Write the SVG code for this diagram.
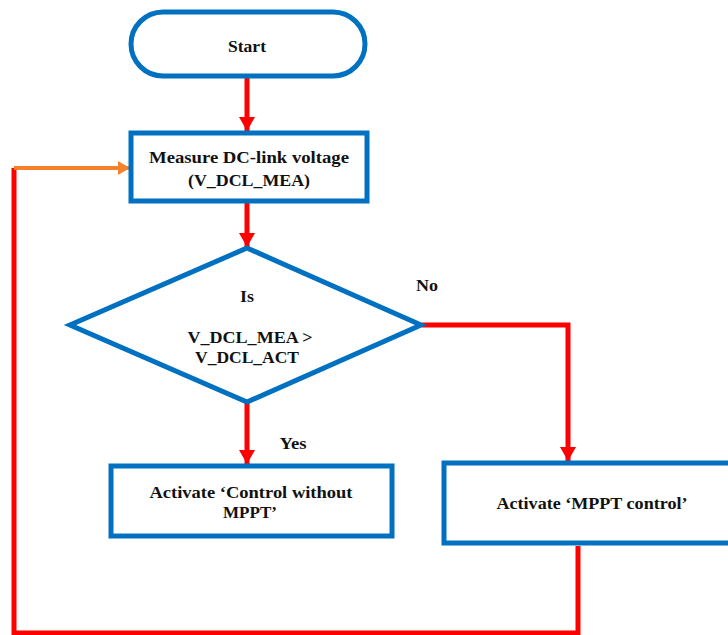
<svg xmlns="http://www.w3.org/2000/svg" width="728" height="635" viewBox="0 0 728 635">
<style>
.box{fill:#fff;stroke:#0070C0;stroke-width:5}
.t{font-family:"Liberation Serif","DejaVu Serif",serif;font-weight:bold;font-size:17px;fill:#111;text-anchor:middle}
.red{fill:none;stroke:#FF0000;stroke-width:5}
.org{fill:none;stroke:#F5822A;stroke-width:4}
</style>
<defs>
<marker id="ar" markerUnits="userSpaceOnUse" markerWidth="16" markerHeight="16" refX="14" refY="8" orient="auto">
<path d="M0,0 L14,8 L0,16 z" fill="#FF0000"/>
</marker>
<marker id="ao" markerUnits="userSpaceOnUse" markerWidth="14" markerHeight="16" refX="12" refY="8" orient="auto">
<path d="M0,1 L12,8 L0,15 z" fill="#F5822A"/>
</marker>
</defs>
<rect width="728" height="635" fill="#fff"/>
<g id="connectors">
<line class="red" x1="247" y1="78" x2="247" y2="131" marker-end="url(#ar)"/>
<line class="red" x1="247" y1="203" x2="247" y2="247" marker-end="url(#ar)"/>
<line class="red" x1="247" y1="402" x2="247" y2="464" marker-end="url(#ar)"/>
<polyline class="red" points="422,325 568,325 568,461" marker-end="url(#ar)"/>
<polyline class="red" points="578,546 578,633 14,633 14,168"/>
<line class="org" x1="14" y1="168" x2="130" y2="168" marker-end="url(#ao)"/>
</g>
<g id="start">
<rect class="box" x="131" y="12" width="234" height="64" rx="32"/>
<text class="t" x="247" y="52" textLength="38" lengthAdjust="spacingAndGlyphs">Start</text>
</g>
<g id="measure">
<rect class="box" x="131" y="133" width="236" height="68"/>
<text class="t" x="249" y="163" textLength="200" lengthAdjust="spacingAndGlyphs">Measure DC-link voltage</text>
<text class="t" x="249" y="186" textLength="122" lengthAdjust="spacingAndGlyphs">(V_DCL_MEA)</text>
</g>
<g id="decision">
<polygon class="box" points="247,248 421,325 247,402 70,325"/>
<text class="t" x="247" y="302" textLength="14" lengthAdjust="spacingAndGlyphs">Is</text>
<text class="t" x="250" y="343" textLength="125" lengthAdjust="spacingAndGlyphs">V_DCL_MEA  &gt;</text>
<text class="t" x="247" y="363" textLength="104" lengthAdjust="spacingAndGlyphs">V_DCL_ACT</text>
</g>
<g id="label-no"><text class="t" x="427" y="291" textLength="22" lengthAdjust="spacingAndGlyphs">No</text></g>
<g id="label-yes"><text class="t" x="293" y="449" textLength="27" lengthAdjust="spacingAndGlyphs">Yes</text></g>
<g id="control">
<rect class="box" x="111" y="466" width="281" height="70"/>
<text class="t" x="251" y="498" textLength="203" lengthAdjust="spacingAndGlyphs">Activate ‘Control without</text>
<text class="t" x="250" y="518" textLength="54" lengthAdjust="spacingAndGlyphs">MPPT’</text>
</g>
<g id="mppt">
<rect class="box" x="444" y="463" width="300" height="80"/>
<text class="t" x="592" y="509" textLength="191" lengthAdjust="spacingAndGlyphs">Activate ‘MPPT control’</text>
</g>
</svg>
